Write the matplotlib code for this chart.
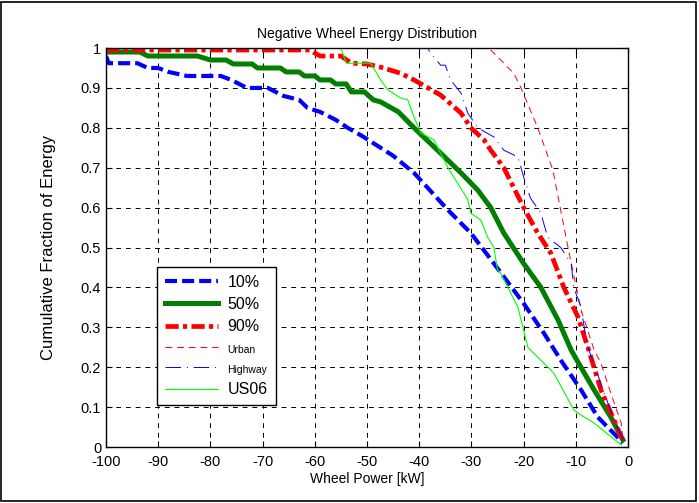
import matplotlib
matplotlib.use("Agg")
import matplotlib.pyplot as plt
from matplotlib.patches import Rectangle

plt.rcParams['font.family'] = ['Liberation Sans', 'DejaVu Sans']
plt.rcParams['axes.unicode_minus'] = False

# data (wheel power kW, cumulative fraction)
p10_x = [-100, -99.5, -94, -92, -90, -88, -84.5, -78, -76, -73, -69, -66, -63, -61.4,
         -59, -56, -53.7, -51, -47.4, -45, -41, -34.5, -30.1, -25.7, -20, -16.1, -12.9,
         -9.0, -5.8, -1.3, -1]
p10_y = [0.98, 0.962, 0.962, 0.95, 0.95, 0.94, 0.93, 0.93, 0.92, 0.90, 0.90, 0.88, 0.87, 0.85,
         0.84, 0.82, 0.80, 0.78, 0.75, 0.73, 0.687, 0.594, 0.536, 0.46, 0.36, 0.285, 0.218,
         0.143, 0.075, 0.015, 0.01]

p50_x = [-100, -93.5, -92, -82.5, -80, -77, -75.6, -72, -71, -66.6, -65.5, -63, -62, -60,
         -59, -57, -56, -54, -53, -50.5, -48.8, -47.4, -44, -41, -36.5, -32, -28.8, -26.3,
         -23.8, -20, -16.7, -13.4, -10.9, -9.6, -6.5, -3.3, -1.3, -1]
p50_y = [0.99, 0.99, 0.98, 0.98, 0.97, 0.97, 0.96, 0.96, 0.95, 0.95, 0.94, 0.94, 0.93, 0.93,
         0.92, 0.92, 0.91, 0.91, 0.89, 0.89, 0.87, 0.865, 0.84, 0.80, 0.744, 0.687, 0.644, 0.60,
         0.536, 0.46, 0.40, 0.318, 0.243, 0.213, 0.143, 0.075, 0.025, 0.018]

p90_x = [-100, -61, -59, -55, -53, -50, -47.4, -43.6, -41, -35.9, -32, -30.1, -27.6, -26.3,
         -23.8, -20, -17.3, -14.8, -12.3, -9.6, -7.7, -5.2, -2.7, -1.3, -1]
p90_y = [0.995, 0.995, 0.98, 0.98, 0.962, 0.96, 0.952, 0.937, 0.92, 0.882, 0.837, 0.80, 0.77,
         0.744, 0.70, 0.60, 0.536, 0.486, 0.40, 0.326, 0.25, 0.143, 0.068, 0.025, 0.02]

urban_x = [-100, -27, -26.3, -23.8, -21.9, -20.5, -17.3, -14.4, -11.5, -9.0, -6.5, -5.2,
           -3.3, -1.3, -1]
urban_y = [1.0, 1.0, 0.995, 0.962, 0.937, 0.90, 0.80, 0.694, 0.50, 0.343, 0.243, 0.21,
           0.135, 0.06, 0.02]

hwy_x = [-100, -38.4, -37.8, -35.9, -35, -34, -32, -30.7, -28.8, -25.7, -23.8, -21.1, -20,
         -18.7, -16.7, -15.4, -12.9, -10.9, -10.4, -9.0, -8.4, -7.7, -2.7, -1]
hwy_y = [1.0, 1.0, 0.987, 0.957, 0.957, 0.92, 0.887, 0.837, 0.80, 0.777, 0.744, 0.727, 0.677,
         0.624, 0.586, 0.526, 0.50, 0.46, 0.40, 0.35, 0.30, 0.25, 0.068, 0.02]

us06_x = [-100, -55, -54, -49.3, -47.4, -46, -43.6, -42.2, -41, -39.7, -37.2, -34.5, -30.7,
          -30.1, -28.2, -26.9, -25.7, -25, -24.4, -21.1, -20, -19.2, -14.2, -10.4, -9, -6.5, -1.3]
us06_y = [1.0, 1.0, 0.962, 0.962, 0.92, 0.895, 0.875, 0.87, 0.827, 0.787, 0.77, 0.70, 0.62,
          0.586, 0.569, 0.526, 0.50, 0.444, 0.436, 0.35, 0.293, 0.25, 0.185, 0.093, 0.08, 0.06, 0.005]

x_ticks = list(range(-100, 1, 10))
y_ticks = [i / 10 for i in range(11)]
y_labels = ['0', '0.1', '0.2', '0.3', '0.4', '0.5', '0.6', '0.7', '0.8', '0.9', '1']

fig = plt.figure(figsize=(6.99, 5.03), dpi=100)
ax = fig.add_axes([0.1517, 0.1113, 0.7468, 0.7932])

ax.plot(p10_x, p10_y, color='#0000ff', lw=3, dashes=(2.9, 1.2), label='10%')
ax.plot(p50_x, p50_y, color='#007f00', lw=3.6, label='50%')
ax.plot(p90_x, p90_y, color='#ff0000', lw=3.4, dashes=(2.8, 0.9, 0.9, 0.9), label='90%')
ax.plot(urban_x, urban_y, color='#ff0000', lw=0.7, dashes=(7, 5), label='Urban')
ax.plot(hwy_x, hwy_y, color='#0000ff', lw=0.7, dashes=(16, 6, 1, 6), label='Highway')
ax.plot(us06_x, us06_y, color='#00ff00', lw=0.8, label='US06')

ax.set_xlim(-100, 0)
ax.set_ylim(0, 1)
ax.set_xticks(x_ticks)
ax.set_yticks(y_ticks)
ax.set_yticklabels(y_labels)
ax.tick_params(direction='in', length=4, top=True, right=True, labelsize=10.5, width=0.8)
ax.tick_params(axis='x', pad=6)
ax.grid(True, color='black', linestyle=(0, (5, 5)), linewidth=0.7)
for s in ax.spines.values():
    s.set_linewidth(1.0)

ax.set_title('Negative Wheel Energy Distribution', fontsize=10, pad=7)
ax.set_xlabel('Wheel Power [kW]', fontsize=10, labelpad=2)
ax.set_ylabel('Cumulative Fraction of Energy', fontsize=12, labelpad=18)

leg = ax.legend(loc='lower left', bbox_to_anchor=(0.098, 0.105), fancybox=False,
                edgecolor='black', framealpha=1, fontsize=11.5, handlelength=3.3,
                borderaxespad=0, labelspacing=0.45, handletextpad=0.6, borderpad=0.5)
leg.get_frame().set_linewidth(1.0)
for i in (3, 4):
    leg.get_texts()[i].set_fontsize(7.5)

fig.patches.append(Rectangle((0.002, 0.004), 0.994, 0.992, transform=fig.transFigure,
                             fill=False, edgecolor='black', linewidth=1.2))

fig.savefig('out.png', dpi=100)
